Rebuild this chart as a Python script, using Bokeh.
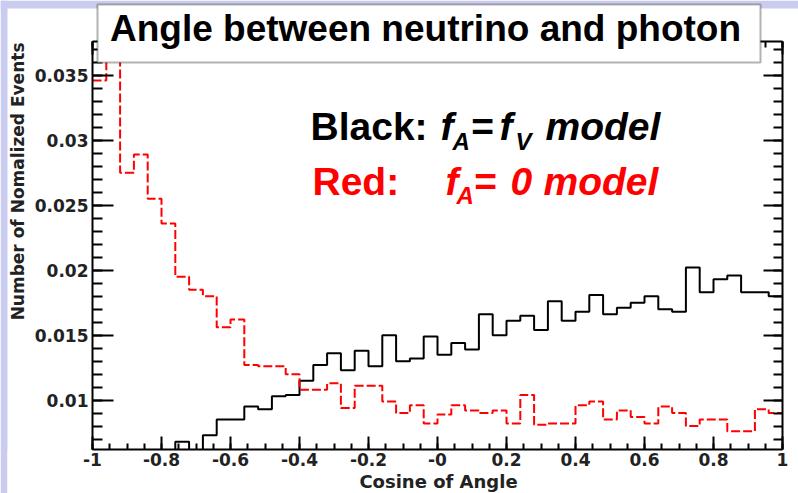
import numpy as np
from bokeh.plotting import figure
from bokeh.models import Range1d, LinearAxis, FixedTicker, BoxAnnotation, Label, ColumnDataSource
from bokeh.embed import file_html
from bokeh.resources import INLINE

# ---------------- data ----------------
bin_edges = np.round(np.linspace(-1.0, 1.0, 51), 2)   # 50 bins of width 0.04

# Black: f_A = f_V model (the first bins lie below the visible range)
black_fa_fv = [0.0050, 0.0052, 0.0054, 0.0056, 0.0057, 0.0058, 0.0068, 0.0059, 0.0073, 0.0085,
               0.0085, 0.0095, 0.0093, 0.0103, 0.0104, 0.0115, 0.0127, 0.0136, 0.0123, 0.0138,
               0.0126, 0.0150, 0.0130, 0.0132, 0.0149, 0.0135, 0.0144, 0.0139, 0.0166, 0.0150,
               0.0161, 0.0165, 0.0154, 0.0176, 0.0161, 0.0168, 0.0181, 0.0166, 0.0171, 0.0175,
               0.0180, 0.0170, 0.0168, 0.0202, 0.0183, 0.0193, 0.0196, 0.0183, 0.0183, 0.0180]

# Red: f_A = 0 model (second bin goes above the visible range)
red_fa_0 = [0.0346, 0.0395, 0.0275, 0.0289, 0.0255, 0.0236, 0.0195, 0.0185, 0.0180, 0.0156,
            0.0162, 0.0127, 0.0126, 0.0126, 0.0120, 0.0108, 0.0108, 0.0113, 0.0094, 0.0111,
            0.0111, 0.0099, 0.0090, 0.0096, 0.0082, 0.0089, 0.0096, 0.0092, 0.0090, 0.0092,
            0.0082, 0.0104, 0.0081, 0.0082, 0.0082, 0.0096, 0.0099, 0.0085, 0.0092, 0.0087,
            0.0082, 0.0095, 0.0090, 0.0080, 0.0085, 0.0085, 0.0076, 0.0076, 0.0093, 0.0090]

x_ticks = [-1, -0.8, -0.6, -0.4, -0.2, 0, 0.2, 0.4, 0.6, 0.8, 1]
x_tick_labels = ["-1", "-0.8", "-0.6", "-0.4", "-0.2", "-0", "0.2", "0.4", "0.6", "0.8", "1"]
x_minor_ticks = [float(v) for v in np.round(np.arange(-1.0, 1.0001, 0.05), 2)]

y_ticks = [0.01, 0.015, 0.02, 0.025, 0.03, 0.035]
y_tick_labels = ["0.01", "0.015", "0.02", "0.025", "0.03", "0.035"]
y_minor_ticks = [float(v) for v in np.round(np.arange(0.007, 0.0371, 0.001), 3)]

title_text = "Angle between neutrino and photon"
x_title = "Cosine of Angle"
y_title = "Number of Nomalized Events"

# ---------------- layout ----------------
W, H = 798, 493
FL, FR, FT, FB = 92, 782, 41, 449          # visual frame in canvas pixels
XMIN, XMAX = -1.0, 1.0
YMIN, YMAX = 0.0062, 0.0376
LAV = "#c9cbef"
TICK_FONT = "DejaVu Sans"
SHIFT = 0.37   # baseline correction (fraction of font size)

sx = (XMAX - XMIN) / (FR - FL)
sy = (YMAX - YMIN) / (FB - FT)

p = figure(width=W, height=H, output_backend="svg", toolbar_location=None,
           x_axis_location=None, y_axis_location=None, min_border=0,
           x_range=Range1d(XMIN - FL * sx, XMAX + (W - FR) * sx),
           y_range=Range1d(YMIN - (H - FB) * sy, YMAX + FT * sy))
p.background_fill_color = "white"
p.border_fill_color = "white"
p.outline_line_color = None
p.xgrid.visible = False
p.ygrid.visible = False

def canvas_box(l, r, t, b, **kw):
    return BoxAnnotation(left=l, right=r, top=t, bottom=b,
                         left_units="canvas", right_units="canvas",
                         top_units="canvas", bottom_units="canvas", **kw)

# slide background strips
p.add_layout(canvas_box(0, 7, 0, H, fill_color=LAV, fill_alpha=1, line_color=None, level="underlay"))
p.add_layout(canvas_box(0, W, 0, 8, fill_color=LAV, fill_alpha=1, line_color=None, level="underlay"))

def hist_source(vals):
    return ColumnDataSource(dict(x=list(bin_edges), y=list(vals) + [vals[-1]]))

p.step(x="x", y="y", source=hist_source(black_fa_fv), mode="after",
       line_color="black", line_width=2)
p.step(x="x", y="y", source=hist_source(red_fa_0), mode="after",
       line_color="red", line_width=2, line_dash="9 3")

# hide what falls below the frame (as the histogram frame clips it)
p.add_layout(canvas_box(7, W, FB, H, fill_color="white", fill_alpha=1, line_color=None, level="glyph"))

xt = FixedTicker(ticks=x_ticks, minor_ticks=x_minor_ticks)
yt = FixedTicker(ticks=y_ticks, minor_ticks=y_minor_ticks)

def add_axis(side, ticker, loc, bounds, major_in, minor_in, labels):
    ax = LinearAxis(ticker=ticker, fixed_location=loc, bounds=bounds,
                    major_label_overrides=labels)
    ax.axis_line_color = "black"
    ax.axis_line_width = 2
    ax.major_tick_line_color = "black"
    ax.major_tick_line_width = 2
    ax.minor_tick_line_color = "black"
    ax.minor_tick_line_width = 2
    ax.major_tick_out = 0
    ax.minor_tick_out = 0
    ax.major_tick_in = major_in
    ax.minor_tick_in = minor_in
    ax.major_label_text_font = TICK_FONT
    ax.major_label_text_font_style = "bold"
    ax.major_label_text_font_size = "17px"
    ax.major_label_text_color = "#222222"
    p.add_layout(ax, side)
    return ax

xa = add_axis("below", xt, YMIN, (XMIN, XMAX), 13, 6, dict(zip(x_ticks, x_tick_labels)))
xa.major_label_standoff = 3
ya = add_axis("left", yt, XMIN, (YMIN, YMAX), 21, 10, dict(zip(y_ticks, y_tick_labels)))
ya.major_label_standoff = 4
add_axis("right", yt, XMAX, (YMIN, YMAX), 19, 9, {t: "" for t in y_ticks})
add_axis("above", xt, YMAX, (XMIN, XMAX), 13, 6, {t: "" for t in x_ticks})

# title box
p.add_layout(canvas_box(97, 760, 4, 62, fill_color="white", fill_alpha=1,
                        line_color="black", line_width=2))

def lab(text, x, y, size, color="black", style="bold", font="Liberation Sans",
        align="left", rotated=False, **kw):
    # (x, y): wanted baseline position in canvas pixels
    if rotated:
        x = x - SHIFT * size
    else:
        y = y - SHIFT * size
    p.add_layout(Label(text=text, x=x, y=y, x_units="canvas", y_units="canvas",
                       text_font=font, text_font_size=f"{size}px", text_font_style=style,
                       text_color=color, text_baseline="alphabetic", text_align=align, **kw))

lab(title_text, 425, 42, 37, align="center")

# legend text
lab("Black:", 310, 140, 39)
lab("f", 440, 140, 39, style="bold italic")
lab("A", 452, 150, 24, style="bold italic")
lab("=", 470, 140, 39, style="bold italic")
lab("f", 499, 140, 39, style="bold italic")
lab("V", 515, 150, 24, style="bold italic")
lab("model", 545, 140, 39, style="bold italic")

lab("Red:", 312, 195, 39, color="red")
lab("f", 445, 195, 39, color="red", style="bold italic")
lab("A", 456, 204, 24, color="red", style="bold italic")
lab("=", 473, 195, 39, color="red", style="bold italic")
lab("0", 510, 195, 39, color="red", style="bold italic")
lab("model", 543, 195, 39, color="red", style="bold italic")

# axis titles
lab(x_title, 438, 488, 18, color="#222222", font=TICK_FONT, align="center")
lab(y_title, 24, 42, 17, color="#222222", font=TICK_FONT, align="right",
    rotated=True, angle=np.pi / 2)

open("out.html", "w").write(file_html(p, INLINE))
